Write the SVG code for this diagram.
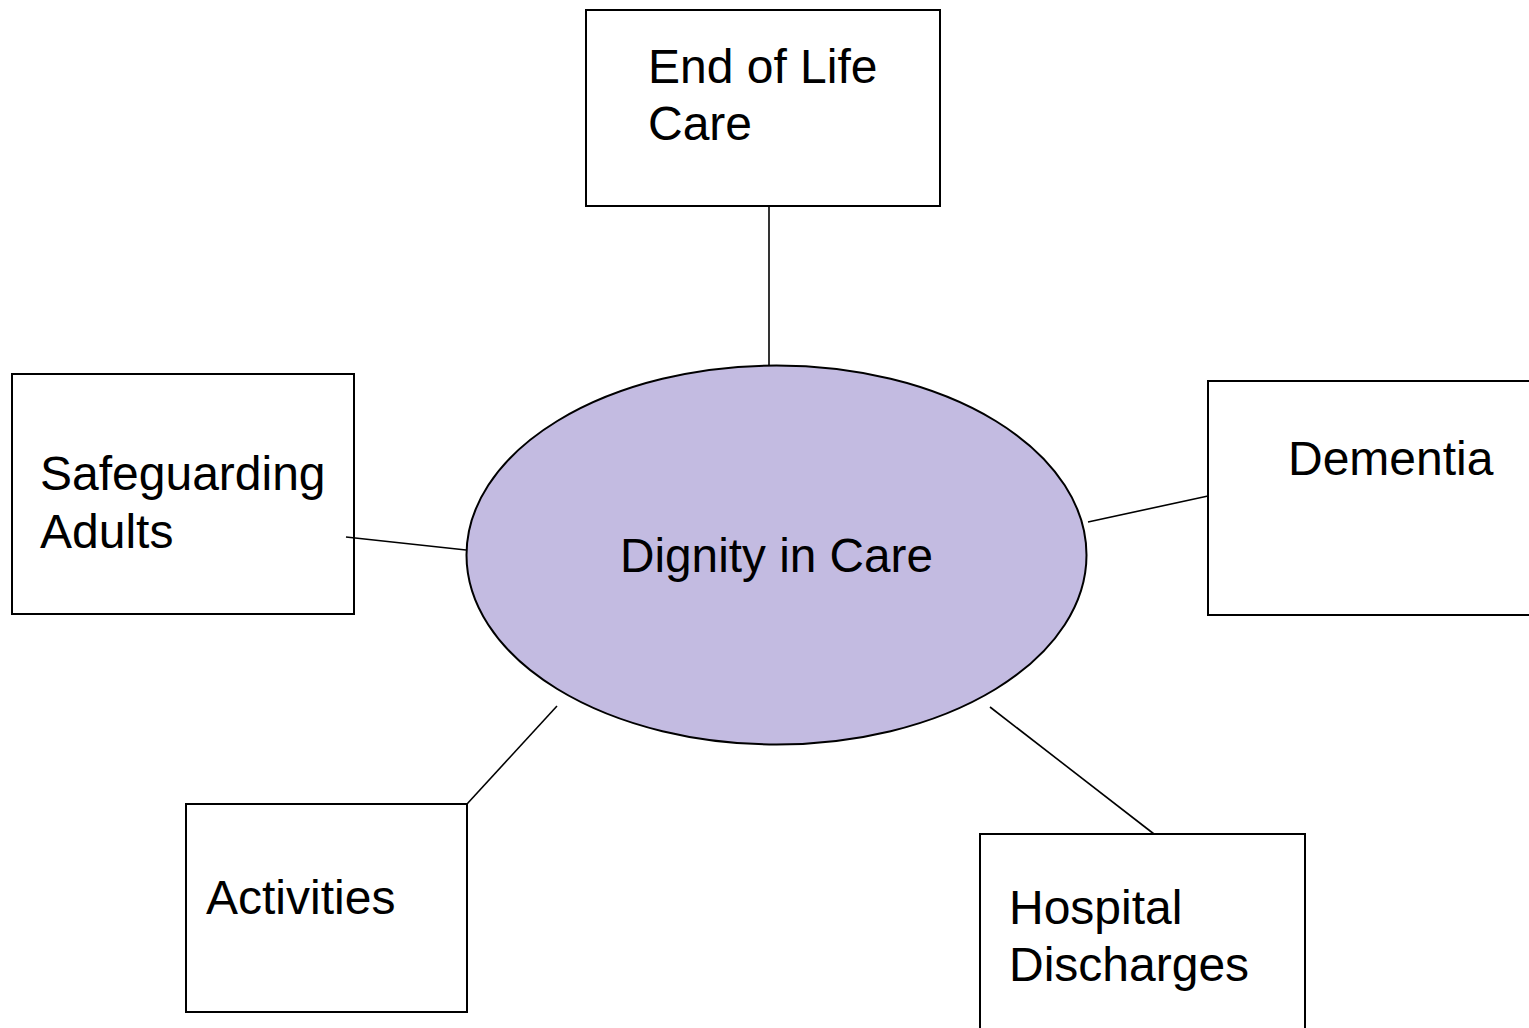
<svg xmlns="http://www.w3.org/2000/svg" width="1529" height="1028" viewBox="0 0 1529 1028">
  <style>
    .box { fill: #ffffff; stroke: #000000; stroke-width: 2; }
    .hub { fill: #c3bbe1; stroke: #000000; stroke-width: 2; }
    .link { stroke: #000000; stroke-width: 1.6; fill: none; }
    .label { font-family: "Liberation Sans", Arial, sans-serif; font-size: 48px; fill: #000000; }
  </style>
  <rect width="1529" height="1028" fill="#ffffff"/>

  <g id="hub">
    <ellipse class="hub" cx="776.5" cy="555" rx="310" ry="189.5"/>
    <text class="label" x="620" y="572" textLength="313" lengthAdjust="spacingAndGlyphs">Dignity in Care</text>
  </g>

  <g id="end-of-life-care">
    <rect class="box" x="586" y="10" width="354" height="196"/>
    <text class="label" x="648" y="83">End of Life</text>
    <text class="label" x="648" y="140">Care</text>
  </g>

  <g id="safeguarding-adults">
    <rect class="box" x="12" y="374" width="342" height="240"/>
    <text class="label" x="40" y="490">Safeguarding</text>
    <text class="label" x="40" y="548">Adults</text>
  </g>

  <g id="dementia">
    <rect class="box" x="1208" y="381" width="330" height="234"/>
    <text class="label" x="1288" y="475">Dementia</text>
  </g>

  <g id="activities">
    <rect class="box" x="186" y="804" width="281" height="208"/>
    <text class="label" x="206" y="914">Activities</text>
  </g>

  <g id="hospital-discharges">
    <rect class="box" x="980" y="834" width="325" height="210"/>
    <text class="label" x="1009" y="924">Hospital</text>
    <text class="label" x="1009" y="981">Discharges</text>
  </g>

  <!-- connectors between the hub and the topic boxes, drawn on top -->
  <g id="connectors">
    <line class="link" x1="769" y1="206" x2="769" y2="366"/>
    <line class="link" x1="346" y1="537" x2="466" y2="550"/>
    <line class="link" x1="1088" y1="522" x2="1208" y2="496"/>
    <line class="link" x1="557" y1="706" x2="467" y2="804"/>
    <line class="link" x1="990" y1="707" x2="1154" y2="834"/>
  </g>
</svg>
